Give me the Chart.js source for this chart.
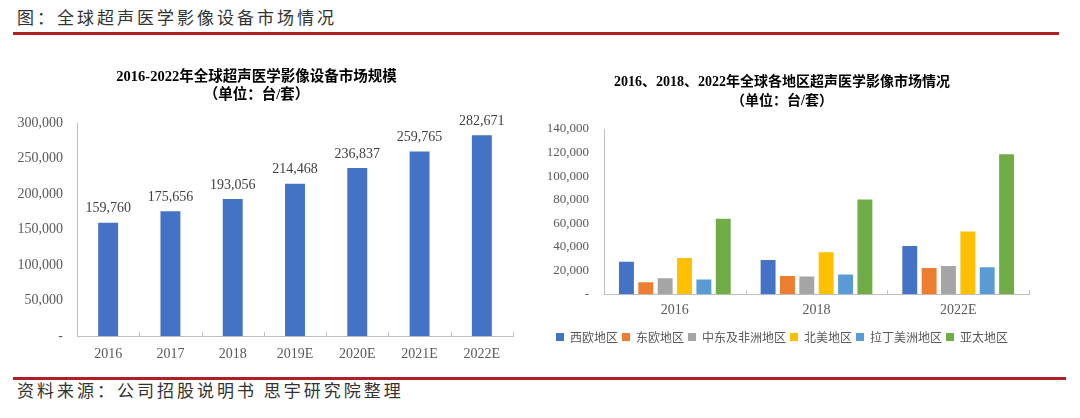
<!DOCTYPE html>
<html>
<head>
<meta charset="utf-8">
<script src="https://cdn.jsdelivr.net/npm/chart.js@4.4.0/dist/chart.umd.min.js"></script>
<style>
  body { margin: 0; background: #fff; width: 1080px; height: 418px; position: relative; overflow: hidden; }
  .cap { position: absolute; left: 17px; font: 17px 'Noto Sans CJK SC', sans-serif; letter-spacing: 3px; color: #333; white-space: nowrap; }
  .rule { position: absolute; height: 3px; background: #B01F24; }
  .box { position: absolute; }
</style>
</head>
<body>
<div class="cap" style="top:4px;">图：全球超声医学影像设备市场情况</div>
<div class="rule" style="left:13px; top:32px; width:1046px;"></div>
<div class="box" style="left:0; top:50px; width:535px; height:323px;"><canvas id="left"></canvas></div>
<div class="box" style="left:535px; top:50px; width:545px; height:320px;"><canvas id="right"></canvas></div>
<div class="rule" style="left:13px; top:377px; width:1053px;"></div>
<div class="cap" style="top:377px;">资料来源：公司招股说明书 思宇研究院整理</div>
<script>
var years = ['2016', '2017', '2018', '2019E', '2020E', '2021E', '2022E'];
var units = [159760, 175656, 193056, 214468, 236837, 259765, 282671];

var regionYears = ['2016', '2018', '2022E'];
var regions = ['西欧地区', '东欧地区', '中东及非洲地区', '北美地区', '拉丁美洲地区', '亚太地区'];
var regionColors = ['#4472C4', '#ED7D31', '#A5A5A5', '#FFC000', '#5B9BD5', '#70AD47'];
var westEurope = [27600, 29000, 40800];
var eastEurope = [10100, 15500, 22300];
var middleEastAfrica = [13500, 14900, 23900];
var northAmerica = [30700, 35500, 53200];
var latinAmerica = [12400, 16600, 22800];
var asiaPacific = [63900, 80300, 118600];

var serif = "'Liberation Serif', 'Noto Sans CJK SC', serif";
var axisGray = '#BFBFBF';
var textGray = '#595959';

function fmt(v) {
  if (v === 0) return '-';
  return v.toLocaleString('en-US');
}

// tick marks pointing up from the x axis, at category boundaries
var upTicks = {
  id: 'upTicks',
  afterDatasetsDraw: function(chart) {
    var x = chart.scales.x, ctx = chart.ctx;
    var n = x.ticks.length;
    ctx.save();
    ctx.strokeStyle = axisGray;
    ctx.lineWidth = 1;
    for (var i = 0; i <= n; i++) {
      var px = Math.round(x.left + i * x.width / n) + 0.5;
      ctx.beginPath();
      ctx.moveTo(px, x.top);
      ctx.lineTo(px, x.top - 4);
      ctx.stroke();
    }
    ctx.restore();
  }
};

var barLabels = {
  id: 'barLabels',
  afterDatasetsDraw: function(chart) {
    var ctx = chart.ctx;
    var meta = chart.getDatasetMeta(0);
    ctx.save();
    ctx.font = '14px ' + serif;
    ctx.fillStyle = '#404040';
    ctx.textAlign = 'center';
    ctx.textBaseline = 'middle';
    meta.data.forEach(function(bar, i) {
      ctx.fillText(fmt(chart.data.datasets[0].data[i]), bar.x, bar.y - 14);
    });
    ctx.restore();
  }
};

new Chart(document.getElementById('left'), {
  type: 'bar',
  data: {
    labels: years,
    datasets: [{ data: units, backgroundColor: '#4472C4', borderWidth: 0, barPercentage: 0.32, categoryPercentage: 1 }]
  },
  options: {
    responsive: true,
    maintainAspectRatio: false,
    animation: false,
    layout: { padding: { left: 0, right: 22, top: 0, bottom: 0 } },
    plugins: {
      legend: { display: false },
      tooltip: { enabled: false },
      title: {
        display: true,
        text: ['2016-2022年全球超声医学影像设备市场规模', '（单位：台/套）'],
        color: '#000',
        font: { family: serif, size: 14.5, weight: 'bold', lineHeight: '18px' },
        padding: { top: 18, bottom: 19 }
      }
    },
    scales: {
      x: {
        grid: { display: false, drawTicks: false },
        border: { color: axisGray },
        ticks: { color: textGray, font: { family: serif, size: 14 }, padding: 10 }
      },
      y: {
        min: 0, max: 300000,
        afterFit: function(s) { s.width = 77; },
        grid: { display: false, drawTicks: false },
        border: { color: axisGray },
        ticks: { stepSize: 50000, color: textGray, font: { family: serif, size: 14 }, padding: 14, callback: fmt }
      }
    }
  },
  plugins: [upTicks, barLabels]
});

var regionData = [westEurope, eastEurope, middleEastAfrica, northAmerica, latinAmerica, asiaPacific];

new Chart(document.getElementById('right'), {
  type: 'bar',
  data: {
    labels: regionYears,
    datasets: regions.map(function(name, i) {
      return { label: name, data: regionData[i], backgroundColor: regionColors[i], borderWidth: 0, barPercentage: 0.77, categoryPercentage: 0.82 };
    })
  },
  options: {
    responsive: true,
    maintainAspectRatio: false,
    animation: false,
    layout: { padding: { left: 0, right: 51, top: 0, bottom: 17 } },
    plugins: {
      tooltip: { enabled: false },
      legend: {
        position: 'bottom',
        labels: { boxWidth: 8, boxHeight: 8, padding: 4, color: textGray, font: { family: "'Noto Sans CJK SC', sans-serif", size: 12 } }
      },
      title: {
        display: true,
        text: ['2016、2018、2022年全球各地区超声医学影像市场情况', '（单位：台/套）'],
        color: '#000',
        font: { family: serif, size: 14, weight: 'bold', lineHeight: '19px' },
        padding: { top: 23, bottom: 18 }
      }
    },
    scales: {
      x: {
        grid: { display: false, drawTicks: false },
        border: { color: axisGray },
        ticks: { color: textGray, font: { family: serif, size: 14 }, padding: 8 }
      },
      y: {
        min: 0, max: 140000,
        afterFit: function(s) { s.width = 69; },
        grid: { display: false, drawTicks: false },
        border: { color: axisGray },
        ticks: { stepSize: 20000, color: textGray, font: { family: serif, size: 13 }, padding: 15, callback: fmt }
      }
    }
  },
  plugins: [upTicks]
});
</script>
</body>
</html>
